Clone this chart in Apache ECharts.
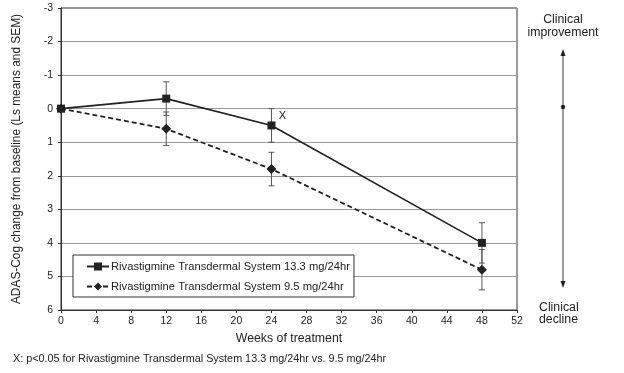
<!DOCTYPE html>
<html>
<head>
<meta charset="utf-8">
<script src="https://cdn.jsdelivr.net/npm/echarts@6/dist/echarts.min.js"></script>
<style>
html,body{margin:0;padding:0;background:#fff;}
#main{width:624px;height:373px;}
</style>
</head>
<body>
<div id="main"></div>
<script>
// ---- data ----
const weeks = [0, 12, 24, 48];
const seriesNames = [
  'Rivastigmine Transdermal System 13.3 mg/24hr',
  'Rivastigmine Transdermal System 9.5 mg/24hr'
];
const high13 = [0, -0.3, 0.5, 4.0];
const low95 = [0, 0.6, 1.8, 4.8];
const sem13 = [0, 0.5, 0.5, 0.6];
const sem95 = [0, 0.5, 0.5, 0.6];
const xTicks = [0, 4, 8, 12, 16, 20, 24, 28, 32, 36, 40, 44, 48, 52];
const yTicks = [-3, -2, -1, 0, 1, 2, 3, 4, 5, 6];
const sigWeek = 24;

const font = 'Liberation Sans, Arial, sans-serif';
const ink = '#222';

function pairs(vals) { return weeks.map((w, i) => [w, vals[i]]); }
function bars(vals, sem) {
  return weeks.map((w, i) => [w, vals[i] - sem[i], vals[i] + sem[i]]).filter((d, i) => sem[i] > 0);
}

function errRender(params, api) {
  const x = api.value(0);
  const p1 = api.coord([x, api.value(1)]);
  const p2 = api.coord([x, api.value(2)]);
  const st = { stroke: '#555', lineWidth: 1 };
  const c = 3;
  return {
    type: 'group',
    children: [
      { type: 'line', shape: { x1: p1[0], y1: p1[1], x2: p2[0], y2: p2[1] }, style: st },
      { type: 'line', shape: { x1: p1[0] - c, y1: p1[1], x2: p1[0] + c, y2: p1[1] }, style: st },
      { type: 'line', shape: { x1: p2[0] - c, y1: p2[1], x2: p2[0] + c, y2: p2[1] }, style: st }
    ]
  };
}

const chart = echarts.init(document.getElementById('main'), null, { renderer: 'canvas' });
chart.setOption({
  animation: false,
  backgroundColor: '#fff',
  textStyle: { fontFamily: font },
  grid: {
    left: 61, right: 107, top: 8, bottom: 63,
    show: true, borderColor: '#333', borderWidth: 1
  },
  legend: {
    data: seriesNames,
    orient: 'vertical',
    left: 73, top: 255,
    padding: [6, 4, 5, 13],
    itemGap: 9,
    itemWidth: 22, itemHeight: 10,
    borderColor: '#333', borderWidth: 1,
    backgroundColor: '#fff',
    textStyle: { fontFamily: font, fontSize: 11.2, color: ink, padding: [0, 0, 0, -3] }
  },
  xAxis: {
    type: 'value',
    min: 0, max: 52, interval: 4,
    name: 'Weeks of treatment',
    nameLocation: 'middle',
    nameGap: 23,
    nameTextStyle: { fontSize: 12.3, color: ink, fontFamily: font },
    axisLine: { show: true, onZero: false, lineStyle: { color: '#333' } },
    axisTick: { show: true, length: 3, lineStyle: { color: '#333' } },
    axisLabel: { fontSize: 10.5, color: ink, margin: 6 },
    splitLine: { show: false }
  },
  yAxis: {
    type: 'value',
    inverse: true,
    min: -3, max: 6, interval: 1,
    name: 'ADAS-Cog change from baseline (Ls means and SEM)',
    nameLocation: 'middle',
    nameGap: 38,
    nameTextStyle: { fontSize: 11.9, color: ink, fontFamily: font },
    axisLine: { show: true, onZero: false, lineStyle: { color: '#333' } },
    axisTick: { show: true, length: 3, lineStyle: { color: '#333' } },
    axisLabel: { fontSize: 10.5, color: ink, margin: 8 },
    splitLine: { show: true, lineStyle: { color: '#999', width: 1 } }
  },
  series: [
    {
      type: 'custom', name: 'err13', renderItem: errRender,
      data: bars(high13, sem13), z: 1, silent: true
    },
    {
      type: 'custom', name: 'err95', renderItem: errRender,
      data: bars(low95, sem95), z: 1, silent: true
    },
    {
      type: 'line', name: seriesNames[0],
      data: pairs(high13),
      symbol: 'rect', symbolSize: 8,
      lineStyle: { color: ink, width: 1.6, type: 'solid' },
      itemStyle: { color: ink },
      z: 3,
      markPoint: {
        symbol: 'circle', symbolSize: 0,
        label: { show: true, formatter: 'X', color: ink, fontSize: 11, offset: [11, -9] },
        data: [{ coord: [sigWeek, high13[weeks.indexOf(sigWeek)]] }]
      }
    },
    {
      type: 'line', name: seriesNames[1],
      data: pairs(low95),
      symbol: 'diamond', symbolSize: 10,
      lineStyle: { color: ink, width: 1.8, type: [5, 3] },
      itemStyle: { color: ink },
      z: 3
    }
  ],
  graphic: [
    { type: 'text', x: 563, y: 13,
      style: { text: 'Clinical\nimprovement', font: '12.3px ' + font, fill: ink, align: 'center', verticalAlign: 'top', lineHeight: 13 } },
    { type: 'line', shape: { x1: 563, y1: 54, x2: 563, y2: 282 }, style: { stroke: '#444', lineWidth: 1 } },
    { type: 'polygon', shape: { points: [[563, 49], [560.5, 56], [565.5, 56]] }, style: { fill: '#222' } },
    { type: 'polygon', shape: { points: [[563, 288], [560.5, 281], [565.5, 281]] }, style: { fill: '#222' } },
    { type: 'circle', shape: { cx: 563, cy: 107, r: 2.2 }, style: { fill: '#222' } },
    { type: 'text', x: 539, y: 302,
      style: { text: 'Clinical\ndecline', font: '12.3px ' + font, fill: ink, align: 'left', verticalAlign: 'top', lineHeight: 12 } },
    { type: 'text', x: 13, y: 354,
      style: { text: 'X: p<0.05 for Rivastigmine Transdermal System 13.3 mg/24hr vs. 9.5 mg/24hr', font: '10.8px ' + font, fill: ink, verticalAlign: 'top' } }
  ]
});
</script>
</body>
</html>
